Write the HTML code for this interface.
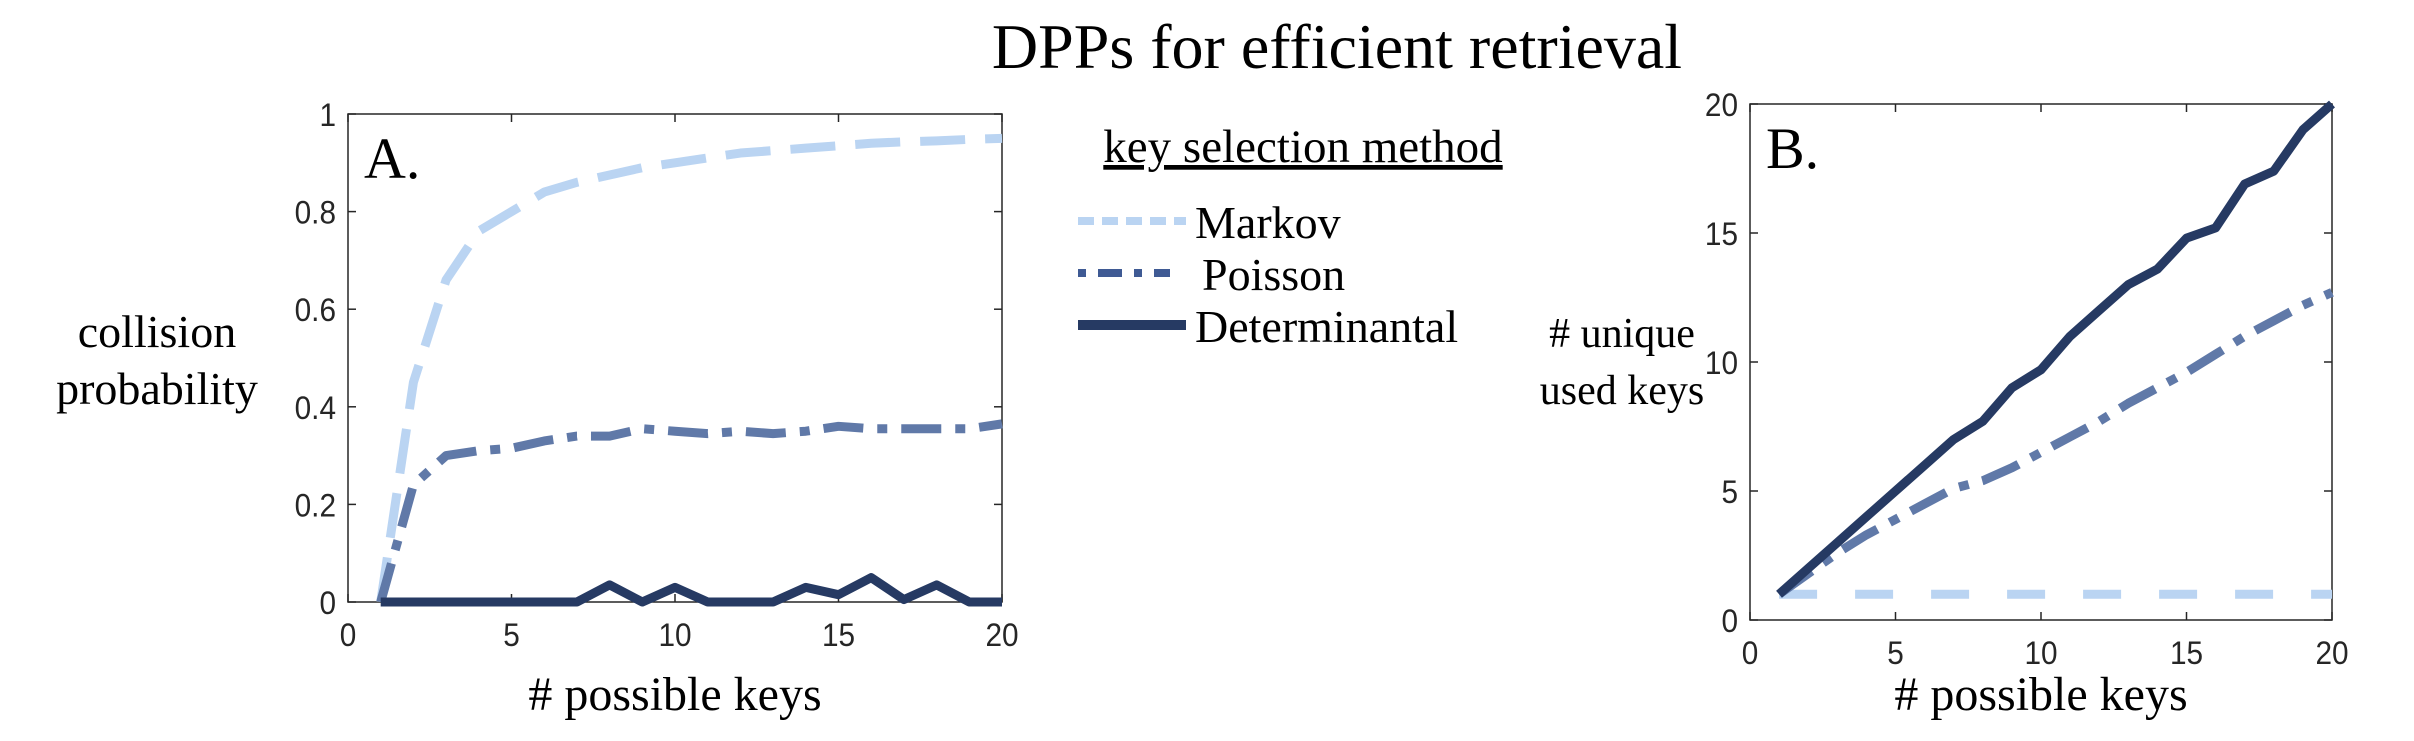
<!DOCTYPE html>
<html><head><meta charset="utf-8"><style>
body{margin:0;background:#fff}
svg text{font-family:"Liberation Serif",serif}
.tick{font-family:"Liberation Sans",sans-serif;font-size:32px;fill:#262626}
</style></head><body>
<svg id="fig" width="2414" height="736" viewBox="0 0 2414 736" xmlns="http://www.w3.org/2000/svg">
<text x="1337" y="68" font-size="64" text-anchor="middle" fill="#000">DPPs for efficient retrieval</text>
<g id="pa"></g>
<g id="pb"></g>
<g>
<text x="1303" y="162" font-size="47" text-anchor="middle" text-decoration="underline">key selection method</text>
<line x1="1078" y1="221" x2="1186" y2="221" stroke="#bad4f2" stroke-width="8" stroke-dasharray="16,8"/>
<text x="1195" y="238" font-size="46">Markov</text>
<line x1="1078" y1="273" x2="1170" y2="273" stroke="#3f5a94" stroke-width="8" stroke-dasharray="8,12,24,12"/>
<text x="1202" y="290" font-size="46">Poisson</text>
<line x1="1078" y1="325" x2="1186" y2="325" stroke="#263a63" stroke-width="10"/>
<text x="1195" y="342" font-size="46">Determinantal</text>
</g>
</svg>
<script>
const xValues=[1,2,3,4,5,6,7,8,9,10,11,12,13,14,15,16,17,18,19,20];
const aMarkov=[0,0.45,0.66,0.76,0.8,0.84,0.86,0.875,0.89,0.9,0.91,0.92,0.925,0.93,0.935,0.94,0.943,0.945,0.948,0.95];
const aPoisson=[0,0.24,0.3,0.31,0.315,0.33,0.34,0.34,0.355,0.35,0.345,0.35,0.345,0.35,0.36,0.355,0.355,0.355,0.355,0.365];
const aDet=[0,0,0,0,0,0,0,0.035,0,0.03,0,0,0,0.03,0.015,0.05,0.005,0.035,0,0];
const bMarkov=[1,1,1,1,1,1,1,1,1,1,1,1,1,1,1,1,1,1,1,1];
const bPoisson=[1,1.8,2.6,3.3,3.9,4.5,5.1,5.4,5.9,6.5,7.1,7.7,8.4,9,9.6,10.3,11,11.6,12.2,12.7];
const bDet=[1,2,3,4,5,6,7,7.7,9,9.7,11,12,13,13.6,14.8,15.2,16.9,17.4,19,20];
const xTicks=[0,5,10,15,20];
const aYTicks=[0,0.2,0.4,0.6,0.8,1];
const aYLabels=["0","0.2","0.4","0.6","0.8","1"];
const bYTicks=[0,5,10,15,20];
const NS="http://www.w3.org/2000/svg";
function mk(p,t,a){const e=document.createElementNS(NS,t);for(const k in a)e.setAttribute(k,a[k]);p.appendChild(e);return e;}
function panel(g,box,ymax,yt,ylab,series,letter,ylines,ylx,ylfs){
 const sx=v=>box.l+(v/20)*(box.r-box.l), sy=v=>box.b-(v/ymax)*(box.b-box.t);
 const fr=mk(g,'rect',{x:box.l,y:box.t,width:box.r-box.l,height:box.b-box.t,fill:'none',stroke:'#262626','stroke-width':1.5});
 
 
 xTicks.forEach(v=>{
  mk(g,'line',{x1:sx(v),x2:sx(v),y1:box.b,y2:box.b-8,stroke:'#262626','stroke-width':1.5});
  mk(g,'line',{x1:sx(v),x2:sx(v),y1:box.t,y2:box.t+8,stroke:'#262626','stroke-width':1.5});
  const t=mk(g,'text',{x:0,y:0,'text-anchor':'middle',class:'tick',transform:`translate(${sx(v)},${box.b+44}) scale(0.93,1)`});t.textContent=v;
  
  
 });
 yt.forEach((v,i)=>{
  mk(g,'line',{x1:box.l,x2:box.l+8,y1:sy(v),y2:sy(v),stroke:'#262626','stroke-width':1.5});
  mk(g,'line',{x1:box.r,x2:box.r-8,y1:sy(v),y2:sy(v),stroke:'#262626','stroke-width':1.5});
  const t=mk(g,'text',{x:0,y:0,'text-anchor':'end',class:'tick',transform:`translate(${box.l-12},${sy(v)+12}) scale(0.93,1)`});t.textContent=ylab[i];
  
  
 });
 series.forEach(s=>{
  const d=xValues.map((x,i)=>(i?'L':'M')+sx(x)+','+sy(s.v[i])).join('');
  const p=mk(g,'path',{d:d,fill:'none',stroke:s.c,'stroke-width':s.w,'stroke-dasharray':s.da||'none','stroke-linejoin':'round'});
  
  
 });
 const xl=mk(g,'text',{x:(box.l+box.r)/2,y:710,'font-size':48,'text-anchor':'middle'});xl.textContent='# possible keys';
 
 
 ylines.forEach((s,i)=>{const t=mk(g,'text',{x:ylx,y:347+i*57,'font-size':ylfs,'text-anchor':'middle'});t.textContent=s;
  
  });
 const L=mk(g,'text',{x:box.l+16,y:box.t+64,'font-size':58});L.textContent=letter;
 
 
}
panel(document.getElementById('pa'),{l:348,r:1002,t:114,b:602},1,aYTicks,aYLabels,[
 {v:aMarkov,c:'#bad4f2',w:9,da:'45,20',n:'line-markov-a'},
 {v:aPoisson,c:'#6079a8',w:9,da:'40,14,10,14',n:'line-poisson-a'},
 {v:aDet,c:'#263a63',w:9,n:'line-determinantal-a'}],'A.',['collision','probability'],157,46);
panel(document.getElementById('pb'),{l:1750,r:2332,t:104,b:620},20,bYTicks,bYTicks.map(String),[
 {v:bMarkov,c:'#bad4f2',w:9,da:'38,38',n:'line-markov-b'},
 {v:bPoisson,c:'#6079a8',w:9,da:'40,14,10,14',n:'line-poisson-b'},
 {v:bDet,c:'#263a63',w:9,n:'line-determinantal-b'}],'B.',['# unique','used keys'],1622,42);
</script>
</body></html>
